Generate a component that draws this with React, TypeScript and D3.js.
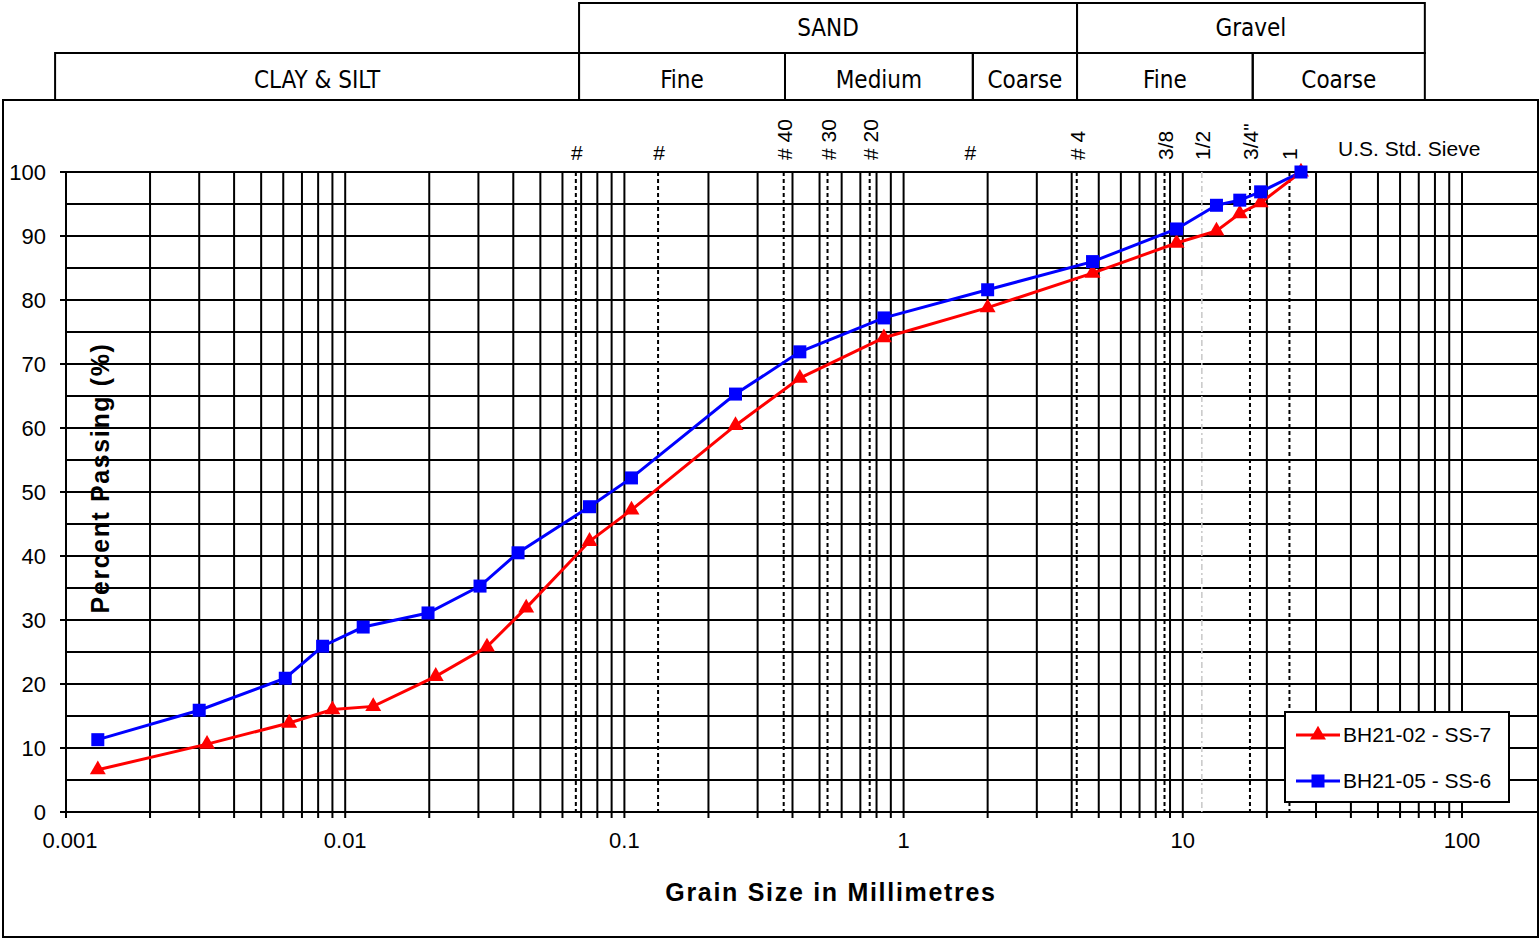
import * as d3 from 'd3'

// Grain size curves (mm, % passing)
const redSizes = [0.0013, 0.0032, 0.0063, 0.009, 0.0126, 0.0211, 0.0322, 0.0445, 0.075, 0.106, 0.25, 0.425, 0.85, 2.0, 4.75, 9.5, 13.2, 16, 19, 26.5]
const redPassing = [6.6, 10.6, 13.9, 16, 16.5, 21.2, 25.8, 31.9, 42.3, 47.2, 60.4, 67.8, 74.1, 78.8, 84.2, 88.9, 90.8, 93.5, 95.2, 100]
const blueSizes = [0.0013, 0.003, 0.0061, 0.0083, 0.0116, 0.0198, 0.0304, 0.0416, 0.075, 0.106, 0.25, 0.425, 0.85, 2.0, 4.75, 9.5, 13.2, 16, 19, 26.5]
const bluePassing = [11.3, 15.9, 20.9, 25.9, 28.9, 31.1, 35.3, 40.5, 47.7, 52.2, 65.3, 71.9, 77.2, 81.6, 86.0, 91.1, 94.8, 95.6, 96.9, 100]

const seriesNames = ['BH21-02 - SS-7', 'BH21-05 - SS-6']

// sieve marker lines (as drawn on the sheet)
const sieveSizes = [0.067, 0.132, 0.372, 0.534, 0.756, 1.72, 4.17, 8.6, 11.7, 17.4, 24.1]
const sieveLabels = ['#', '#', '# 40', '# 30', '# 20', '#', '# 4', '3/8', '1/2', '3/4"', '1']
const sieveStyle = ['dash', 'dash', 'dash', 'dash', 'dash', 'none', 'dash', 'dash', 'grey', 'dash', 'dash']

// classification header
const topBounds = [0.0688, 4.18, 73.6]
const topLabels = ['SAND', 'Gravel']
const subBounds = [0.000914, 0.0688, 0.376, 1.77, 4.18, 17.8, 73.6]
const subLabels = ['CLAY & SILT', 'Fine', 'Medium', 'Coarse', 'Fine', 'Coarse']

const xTicks = [0.001, 0.01, 0.1, 1, 10, 100]
const xTickLabels = ['0.001', '0.01', '0.1', '1', '10', '100']
const yTicks = [0, 10, 20, 30, 40, 50, 60, 70, 80, 90, 100]

const W = 1539
const H = 939
const ARIAL = "'Liberation Sans', Arial, sans-serif"
const NARROW = "'Liberation Sans Narrow', 'DejaVu Sans Condensed', 'Roboto Condensed', sans-serif"

export default function App() {
  const x = d3.scaleLog().domain([0.001, 100]).range([66, 1462])
  const y = d3.scaleLinear().domain([0, 100]).range([812, 172])

  // minor grid: 1..9 in each decade
  const vGrid: number[] = []
  for (let e = -3; e < 2; e++) {
    for (let k = 1; k <= 9; k++) vGrid.push(k * Math.pow(10, e))
  }
  vGrid.push(100)
  const hGrid = d3.range(0, 101, 5)

  const line = d3
    .line<[number, number]>()
    .x((d) => x(d[0]))
    .y((d) => y(d[1]))

  const red = redSizes.map((s, i) => [s, redPassing[i]] as [number, number])
  const blue = blueSizes.map((s, i) => [s, bluePassing[i]] as [number, number])

  const tri = d3.symbol().type(d3.symbolTriangle).size(110)()
  const sq = 13

  const rowTop = 3
  const rowMid = 53
  const rowBot = 100

  return (
    <svg
      width={W}
      height={H}
      style={{ position: 'absolute', left: 0, top: 0, background: '#fff' }}
    >
      <rect x={0} y={0} width={W} height={H} fill="#fff" />

      {/* header boxes */}
      <g stroke="#000" strokeWidth={2} fill="none">
        {topLabels.map((t, i) => (
          <rect
            key={'tb' + i}
            x={x(topBounds[i])}
            y={rowTop}
            width={x(topBounds[i + 1]) - x(topBounds[i])}
            height={rowMid - rowTop}
          />
        ))}
        {subLabels.map((t, i) => (
          <rect
            key={'sb' + i}
            x={x(subBounds[i])}
            y={rowMid}
            width={x(subBounds[i + 1]) - x(subBounds[i])}
            height={rowBot - rowMid}
          />
        ))}
      </g>
      <g fontFamily={NARROW} fontSize={24} textAnchor="middle" fill="#000">
        {topLabels.map((t, i) => (
          <text key={'tt' + i} x={(x(topBounds[i]) + x(topBounds[i + 1])) / 2} y={36}>
            {t}
          </text>
        ))}
        {subLabels.map((t, i) => (
          <text key={'st' + i} x={(x(subBounds[i]) + x(subBounds[i + 1])) / 2} y={88}>
            {t}
          </text>
        ))}
      </g>

      {/* outer frame */}
      <rect x={3} y={rowBot} width={W - 4} height={H - rowBot - 2} fill="none" stroke="#000" strokeWidth={2} />

      {/* horizontal grid */}
      <g stroke="#000" strokeWidth={2}>
        {hGrid.map((v) => (
          <line key={'h' + v} x1={v % 10 === 0 ? 60 : 66} x2={W - 1} y1={y(v)} y2={y(v)} />
        ))}
      </g>
      {/* vertical grid */}
      <g stroke="#000" strokeWidth={2}>
        {vGrid.map((v) => (
          <line key={'v' + v} x1={x(v)} x2={x(v)} y1={y(100)} y2={y(0) + 6} />
        ))}
      </g>

      {/* sieve lines */}
      <g>
        {sieveSizes.map((s, i) =>
          sieveStyle[i] === 'none' ? null : (
            <line
              key={'sv' + i}
              x1={x(s)}
              x2={x(s)}
              y1={y(100)}
              y2={y(0)}
              stroke={sieveStyle[i] === 'grey' ? '#c8c8c8' : '#000'}
              strokeWidth={sieveStyle[i] === 'grey' ? 1.5 : 2}
              strokeDasharray={sieveStyle[i] === 'grey' ? '6,3,2,3' : '4,3'}
            />
          )
        )}
      </g>
      <g fontFamily={ARIAL} fontSize={21} fill="#000">
        {sieveSizes.map((s, i) =>
          sieveLabels[i] === '#' ? (
            <text key={'sl' + i} x={x(s) + 1} y={160} textAnchor="middle">
              #
            </text>
          ) : (
            <text
              key={'sl' + i}
              transform={`translate(${x(s) + 8},160) rotate(-90)`}
              textAnchor="start"
            >
              {sieveLabels[i]}
            </text>
          )
        )}
        <text x={1338} y={156}>U.S. Std. Sieve</text>
      </g>

      {/* axis labels */}
      <g fontFamily={ARIAL} fontSize={22} fill="#000">
        {yTicks.map((v) => (
          <text key={'yl' + v} x={46} y={y(v) + 8} textAnchor="end">
            {v}
          </text>
        ))}
        {xTicks.map((v, i) => (
          <text key={'xl' + v} x={x(v) + (i === 0 ? 4 : 0)} y={848} textAnchor="middle">
            {xTickLabels[i]}
          </text>
        ))}
      </g>
      <text
        transform={`translate(109,478) rotate(-90)`}
        textAnchor="middle"
        fontFamily={ARIAL}
        fontSize={25}
        fontWeight="bold"
        letterSpacing={1.6}
      >
        Percent Passing (%)
      </text>
      <text
        x={831}
        y={901}
        textAnchor="middle"
        fontFamily={ARIAL}
        fontSize={25}
        fontWeight="bold"
        letterSpacing={1.7}
      >
        Grain Size in Millimetres
      </text>

      {/* curves */}
      <path d={line(red) || ''} fill="none" stroke="#ff0000" strokeWidth={3} />
      <path d={line(blue) || ''} fill="none" stroke="#0000ff" strokeWidth={3} />
      <g fill="#ff0000">
        {red.map((d, i) => (
          <path key={'rm' + i} d={tri || ''} transform={`translate(${x(d[0])},${y(d[1])})`} />
        ))}
      </g>
      <g fill="#0000ff">
        {blue.map((d, i) => (
          <rect key={'bm' + i} x={x(d[0]) - sq / 2} y={y(d[1]) - sq / 2} width={sq} height={sq} />
        ))}
      </g>

      {/* legend */}
      <g>
        <rect x={1285} y={712} width={224} height={90} fill="#fff" stroke="#000" strokeWidth={2} />
        <line x1={1296} x2={1340} y1={735} y2={735} stroke="#ff0000" strokeWidth={3} />
        <path d={tri || ''} transform="translate(1318,735)" fill="#ff0000" />
        <text x={1343} y={742} fontFamily={ARIAL} fontSize={21}>
          {seriesNames[0]}
        </text>
        <line x1={1296} x2={1340} y1={781} y2={781} stroke="#0000ff" strokeWidth={3} />
        <rect x={1318 - sq / 2} y={781 - sq / 2} width={sq} height={sq} fill="#0000ff" />
        <text x={1343} y={788} fontFamily={ARIAL} fontSize={21}>
          {seriesNames[1]}
        </text>
      </g>
    </svg>
  )
}
